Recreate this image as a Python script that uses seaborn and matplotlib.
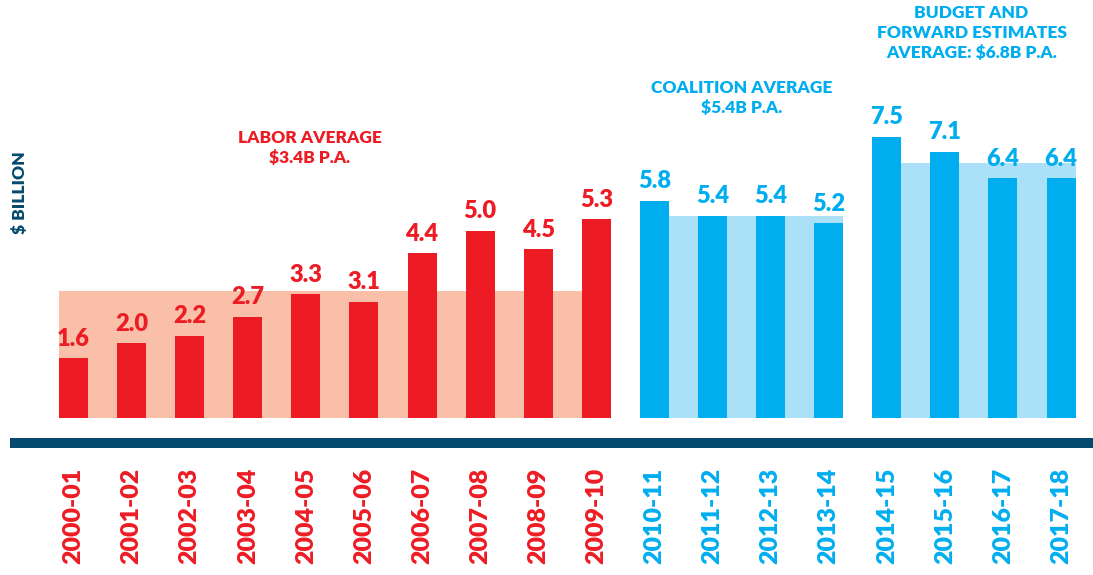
import matplotlib
matplotlib.use('Agg')
import matplotlib.pyplot as plt
import seaborn as sns
import numpy as np

# data
years = ['2000-01', '2001-02', '2002-03', '2003-04', '2004-05', '2005-06', '2006-07',
         '2007-08', '2008-09', '2009-10', '2010-11', '2011-12', '2012-13', '2013-14',
         '2014-15', '2015-16', '2016-17', '2017-18']
spend = [1.6, 2.0, 2.2, 2.7, 3.3, 3.1, 4.4, 5.0, 4.5, 5.3,
         5.8, 5.4, 5.4, 5.2,
         7.5, 7.1, 6.4, 6.4]
group = ['labor'] * 10 + ['coalition'] * 4 + ['budget'] * 4
avg_labor = 3.4
avg_coalition = 5.4
avg_budget = 6.8
labels = {
    'labor': 'LABOR AVERAGE\n$3.4B P.A.',
    'coalition': 'COALITION AVERAGE\n$5.4B P.A.',
    'budget': 'BUDGET AND\nFORWARD ESTIMATES\nAVERAGE: $6.8B P.A.',
}

RED = '#ed1c24'
SALMON = '#f9bfa9'
BLUE = '#00aeef'
LIGHTBLUE = '#abe0f9'
NAVY = '#034a6e'

sns.set_style('white')
plt.rcParams['font.family'] = ['Lato', 'DejaVu Sans']
plt.rcParams['font.weight'] = 'heavy'

fig = plt.figure(figsize=(10.93, 5.75), dpi=100)
ax = fig.add_axes([10 / 1093, (575 - 443) / 575, 1 - 10 / 1093, 443 / 575])

bar_colors = [RED if g == 'labor' else BLUE for g in group]
w = 0.5

# average backdrops (drawn behind the bars)
ax.bar(0 - w / 2, avg_labor, width=9, align='edge', color=SALMON, linewidth=0, zorder=0)
ax.bar(10 + w / 2, avg_coalition, width=3, align='edge', color=LIGHTBLUE, linewidth=0, zorder=0)
ax.bar(14 + w / 2, avg_budget, width=3, align='edge', color=LIGHTBLUE, linewidth=0, zorder=0)

sns.barplot(x=years, y=spend, hue=years, palette=bar_colors, legend=False,
            width=w, saturation=1, linewidth=0, edgecolor='none', ax=ax, zorder=2)

for i, v in enumerate(spend):
    ax.annotate(f'{v:.1f}', (i, v), xytext=(0, 6), textcoords='offset points',
                ha='center', va='bottom', fontsize=17, fontweight='heavy',
                color=bar_colors[i])

ax.text(4.07, 7.21, labels['labor'], ha='center', va='center', fontsize=12.5,
        fontweight='heavy', color=RED, linespacing=1.3)
ax.text(11.5, 8.53, labels['coalition'], ha='center', va='center', fontsize=12.5,
        fontweight='heavy', color=BLUE, linespacing=1.3)
ax.text(15.46, 10.27, labels['budget'], ha='center', va='center', fontsize=12.5,
        fontweight='heavy', color=BLUE, linespacing=1.3)

ax.set_xlim(-1.093, 17.55)
ax.set_ylim(-0.667, 11.15)

for s in ['top', 'right', 'left']:
    ax.spines[s].set_visible(False)
ax.spines['bottom'].set_color(NAVY)
ax.spines['bottom'].set_linewidth(7.2)
ax.spines['bottom'].set_capstyle('butt')
ax.spines['bottom'].set_position(('data', -0.667))

ax.set_yticks([])
ax.tick_params(axis='x', length=0, pad=18)
ax.set_xticks(range(len(years)))
ax.set_xticklabels(years, rotation=90, fontsize=18, fontweight='heavy')
for lab, c in zip(ax.get_xticklabels(), bar_colors):
    lab.set_color(c)

fig.text(20 / 1093, 1 - 193 / 575, '$ BILLION', rotation=90, ha='center', va='center',
         fontsize=12.5, fontweight='heavy', color=NAVY)

fig.savefig('out.png', dpi=100)
